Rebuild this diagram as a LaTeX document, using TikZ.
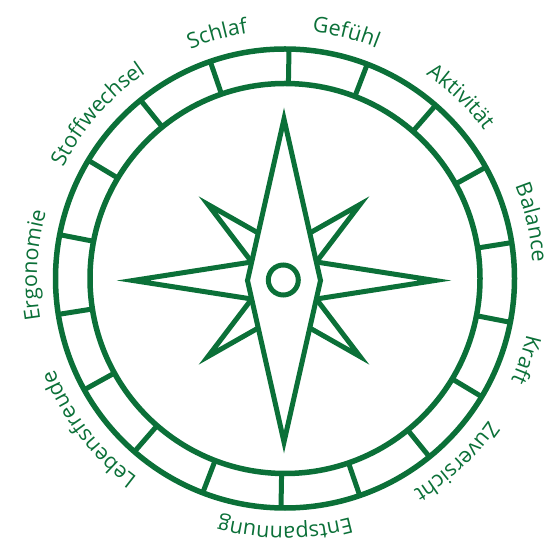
\documentclass[tikz,border=0pt]{standalone}
\usepackage{fontspec}
\newfontfamily\lblfont{Open Sans}
\usetikzlibrary{calc,decorations.text}
\definecolor{cgreen}{RGB}{11,112,56}
\begin{document}
\begin{tikzpicture}[x=1pt,y=1pt,
  ring/.style={draw=cgreen,line width=5.5pt},
  tick/.style={draw=cgreen,line width=5pt},
  star/.style={draw=cgreen,line width=5pt,line join=miter,miter limit=20},
  lbl/.style={decorate,decoration={text along path,text align=center,
     text={|\lblfont\fontsize{21.5}{24}\selectfont\color{cgreen}|#1}}}]
\useasboundingbox (0,0) rectangle (553,543);
% centres
\coordinate (R) at (285,264.5);
\coordinate (C) at (284,262.5);
% rings
\draw[ring] (R) circle[radius=229.5];
\draw[ring] (R) circle[radius=195];
\foreach \a in {89,69,...,-251}{
  \draw[tick] ($(R)+(\a:195pt)$) -- ($(R)+(\a:229.5pt)$);
}
% star coordinates
\coordinate (N) at ($(C)+(0,161.5)$);
\coordinate (S) at ($(C)+(0,-161.5)$);
\coordinate (Wp) at ($(C)+(-36.5,0)$);
\coordinate (Ep) at ($(C)+(36.5,0)$);
\coordinate (W) at ($(C)+(-151,0)$);
\coordinate (E) at ($(C)+(151,0)$);
\coordinate (NW) at ($(C)+(-76,76)$);
\coordinate (NE) at ($(C)+(76,76)$);
\coordinate (SW) at ($(C)+(-76,-76)$);
\coordinate (SE) at ($(C)+(76,-76)$);
\coordinate (a1) at ($(C)+(-32.3,18.5)$);
\coordinate (a2) at ($(C)+(-25.8,47.5)$);
\coordinate (b1) at ($(C)+(32.3,18.5)$);
\coordinate (b2) at ($(C)+(25.8,47.5)$);
\coordinate (c1) at ($(C)+(-32.3,-18.5)$);
\coordinate (c2) at ($(C)+(-25.8,-47.5)$);
\coordinate (d1) at ($(C)+(32.3,-18.5)$);
\coordinate (d2) at ($(C)+(25.8,-47.5)$);
% star
\draw[star] (N) -- (Ep) -- (S) -- (Wp) -- cycle;
\draw[star] (a1) -- (W) -- (c1);
\draw[star] (b1) -- (E) -- (d1);
\draw[star] (a2) -- (NW) -- (a1);
\draw[star] (b2) -- (NE) -- (b1);
\draw[star] (c2) -- (SW) -- (c1);
\draw[star] (d2) -- (SE) -- (d1);
\draw[star] ($(C)+(-0.7,0.5)$) circle[radius=15];
% labels
\foreach \m/\t in {105.5/Schlaf,76/Gefühl,46/Aktivität,12.8/Balance,-18.6/Kraft,-46.8/Zuversicht,-90/Entspannung,217.5/Lebensfreude,177/Ergonomie,138.8/Stoffwechsel}{
  \pgfmathsetmacro{\sa}{\m+40}
  \pgfmathsetmacro{\ea}{\m-40}
  \path[lbl=\t] ($(R)+(\sa:248pt)$) arc[start angle=\sa,end angle=\ea,radius=248pt];
}
\end{tikzpicture}
\end{document}
